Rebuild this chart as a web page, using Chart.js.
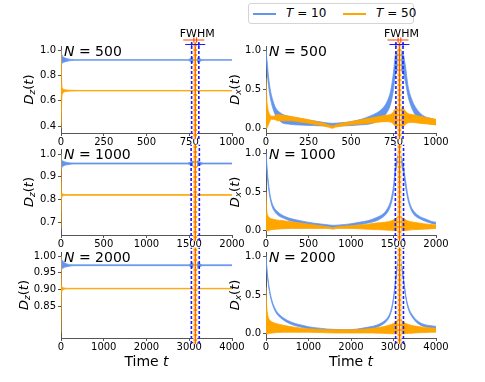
<!DOCTYPE html>
<html><head><meta charset="utf-8">
<script src="https://cdn.jsdelivr.net/npm/chart.js@4.4.1/dist/chart.umd.min.js"></script>
<style>
html,body{margin:0;padding:0;background:#fff;}
#wrap{position:relative;width:485px;height:382px;background:#fff;overflow:hidden;font-family:"DejaVu Sans";}
.c{position:absolute;}
#legend{position:absolute;left:248px;top:3px;width:164px;height:19px;border:1px solid #d4d4d4;border-radius:3px;background:#fff;font:12px "DejaVu Sans";color:#000;}
#legend .ln{position:absolute;height:2px;width:23px;top:8.5px;}
#legend .tx{position:absolute;top:2px;white-space:nowrap;line-height:14px;}
</style></head>
<body><div id="wrap">
<div id="legend">
  <div class="ln" style="left:4px;background:#6495ED"></div>
  <span class="tx" style="left:37px"><i>T</i> = 10</span>
  <div class="ln" style="left:94px;background:#FFA500"></div>
  <span class="tx" style="left:127px"><i>T</i> = 50</span>
</div>
</div>
<script>
// ---------------- data ----------------
const Nvals = [500, 1000, 2000];
const xMaxes = [1000, 2000, 4000];
const xTicks500 = [0, 250, 500, 750, 1000];
const xTicks1000 = [0, 500, 1000, 1500, 2000];
const xTicks2000 = [0, 1000, 2000, 3000, 4000];
const yTicksDz500 = [0.4, 0.6, 0.8, 1.0];
const yTicksDz1000 = [0.7, 0.8, 0.9, 1.0];
const yTicksDz2000 = [0.85, 0.90, 0.95, 1.00];
const yTicksDx = [0.0, 0.5, 1.0];
const yLimDz500 = [0.345, 1.032];
const yLimDz1000 = [0.645, 1.022];
const yLimDz2000 = [0.754, 1.012];
const yLimDx = [-0.055, 1.055];
const revivalT = [785, 1570, 3142];
const fwhmHalfT10 = [21, 48, 92];
const fwhmHalfT50 = [8, 16, 32];

// D_z, N=500
const dz500_t10_time = [0, 2, 5, 10, 20, 35, 60, 100, 740, 760, 775, 785, 795, 810, 830, 1000];
const dz500_t10_hi = [1.0, 0.97, 0.965, 0.95, 0.94, 0.932, 0.926, 0.924, 0.924, 0.935, 0.945, 0.946, 0.94, 0.932, 0.924, 0.924];
const dz500_t10_lo = [1.0, 0.88, 0.893, 0.9, 0.905, 0.912, 0.917, 0.92, 0.92, 0.908, 0.9, 0.899, 0.903, 0.91, 0.92, 0.92];
const dz500_t50_time = [0, 2, 4, 8, 15, 30, 60, 100, 1000];
const dz500_t50_hi = [1.0, 0.9, 0.75, 0.7, 0.69, 0.685, 0.682, 0.681, 0.681];
const dz500_t50_lo = [0.38, 0.45, 0.6, 0.65, 0.665, 0.672, 0.676, 0.677, 0.677];
// D_z, N=1000
const dz1000_t10_time = [0, 3, 8, 20, 40, 70, 110, 150, 1480, 1520, 1550, 1570, 1590, 1620, 1660, 2000];
const dz1000_t10_hi = [1.0, 0.985, 0.975, 0.97, 0.966, 0.963, 0.961, 0.9605, 0.9605, 0.966, 0.97, 0.972, 0.97, 0.966, 0.9605, 0.9605];
const dz1000_t10_lo = [1.0, 0.93, 0.94, 0.945, 0.95, 0.953, 0.955, 0.9565, 0.9565, 0.95, 0.946, 0.944, 0.946, 0.95, 0.9565, 0.9565];
const dz1000_t50_time = [0, 2, 5, 10, 20, 40, 80, 2000];
const dz1000_t50_hi = [1.0, 0.9, 0.84, 0.828, 0.825, 0.823, 0.822, 0.822];
const dz1000_t50_lo = [0.67, 0.72, 0.8, 0.812, 0.816, 0.818, 0.819, 0.819];
// D_z, N=2000
const dz2000_t10_time = [0, 5, 15, 40, 80, 140, 220, 300, 2980, 3060, 3110, 3142, 3180, 3230, 3310, 4000];
const dz2000_t10_hi = [1.0, 0.995, 0.99, 0.985, 0.98, 0.976, 0.974, 0.9735, 0.9735, 0.978, 0.982, 0.983, 0.982, 0.978, 0.9735, 0.9735];
const dz2000_t10_lo = [1.0, 0.955, 0.96, 0.963, 0.966, 0.968, 0.97, 0.971, 0.971, 0.966, 0.962, 0.96, 0.962, 0.966, 0.971, 0.971];
const dz2000_t50_time = [0, 4, 10, 25, 50, 100, 160, 4000];
const dz2000_t50_hi = [1.0, 0.95, 0.915, 0.907, 0.905, 0.9035, 0.903, 0.903];
const dz2000_t50_lo = [0.77, 0.82, 0.885, 0.895, 0.899, 0.901, 0.9015, 0.9015];

// D_x, N=500
const dx500_t10_time = [0, 8, 15, 25, 35, 50, 65, 80, 100, 130, 170, 220, 280, 340, 390, 440, 500, 560, 610, 650, 690, 715, 735, 750, 762, 785, 808, 820, 835, 860, 890, 930, 970, 1000];
const dx500_t10_hi = [1.0, 0.82, 0.66, 0.5, 0.4, 0.3, 0.24, 0.21, 0.18, 0.16, 0.14, 0.12, 0.1, 0.08, 0.068, 0.075, 0.09, 0.12, 0.16, 0.2, 0.27, 0.36, 0.5, 0.72, 0.95, 1.0, 0.95, 0.8, 0.55, 0.36, 0.24, 0.16, 0.13, 0.11];
const dx500_t10_lo = [1.0, 0.7, 0.55, 0.4, 0.3, 0.2, 0.14, 0.1, 0.07, 0.06, 0.05, 0.045, 0.04, 0.035, 0.03, 0.035, 0.04, 0.05, 0.06, 0.09, 0.15, 0.22, 0.33, 0.5, 0.7, 0.75, 0.7, 0.6, 0.42, 0.25, 0.14, 0.08, 0.06, 0.05];
const dx500_t50_time = [0, 4, 10, 20, 30, 45, 70, 100, 150, 200, 250, 300, 340, 375, 390, 410, 450, 500, 550, 600, 650, 700, 740, 760, 785, 810, 830, 860, 900, 950, 1000];
const dx500_t50_hi = [0.65, 0.4, 0.27, 0.19, 0.16, 0.16, 0.18, 0.17, 0.155, 0.135, 0.115, 0.09, 0.07, 0.045, 0.035, 0.05, 0.07, 0.09, 0.11, 0.13, 0.15, 0.17, 0.19, 0.25, 0.28, 0.25, 0.2, 0.18, 0.16, 0.14, 0.12];
const dx500_t50_lo = [0.0, 0.0, 0.03, 0.08, 0.12, 0.12, 0.1, 0.1, 0.1, 0.085, 0.07, 0.05, 0.035, 0.015, 0.005, 0.02, 0.035, 0.05, 0.06, 0.07, 0.08, 0.09, 0.08, 0.03, 0.0, 0.03, 0.07, 0.08, 0.07, 0.06, 0.05];
// D_x, N=1000
const dx1000_t10_time = [0, 10, 25, 45, 70, 100, 130, 170, 210, 280, 400, 550, 700, 785, 870, 1000, 1100, 1200, 1300, 1380, 1430, 1470, 1500, 1525, 1570, 1615, 1640, 1670, 1700, 1740, 1800, 1880, 1950, 2000];
const dx1000_t10_hi = [1.0, 0.85, 0.66, 0.48, 0.36, 0.29, 0.25, 0.215, 0.19, 0.16, 0.13, 0.1, 0.08, 0.07, 0.075, 0.09, 0.11, 0.13, 0.17, 0.22, 0.29, 0.4, 0.58, 0.85, 1.0, 0.85, 0.66, 0.45, 0.33, 0.25, 0.19, 0.15, 0.12, 0.11];
const dx1000_t10_lo = [1.0, 0.78, 0.6, 0.44, 0.32, 0.25, 0.21, 0.18, 0.16, 0.13, 0.1, 0.07, 0.05, 0.04, 0.05, 0.06, 0.08, 0.1, 0.13, 0.18, 0.24, 0.34, 0.5, 0.76, 0.9, 0.76, 0.58, 0.4, 0.29, 0.21, 0.16, 0.12, 0.095, 0.085];
const dx1000_t50_time = [0, 5, 15, 30, 50, 80, 120, 200, 300, 400, 500, 600, 700, 760, 785, 810, 870, 1000, 1100, 1200, 1300, 1400, 1480, 1530, 1570, 1610, 1660, 1740, 1850, 2000];
const dx1000_t50_hi = [0.5, 0.32, 0.22, 0.18, 0.16, 0.15, 0.14, 0.13, 0.115, 0.1, 0.085, 0.07, 0.055, 0.045, 0.04, 0.045, 0.055, 0.065, 0.075, 0.085, 0.1, 0.11, 0.13, 0.16, 0.2, 0.16, 0.13, 0.11, 0.09, 0.075];
const dx1000_t50_lo = [0.0, 0.0, 0.0, 0.0, 0.01, 0.015, 0.02, 0.025, 0.03, 0.03, 0.03, 0.03, 0.03, 0.025, 0.02, 0.025, 0.03, 0.03, 0.025, 0.02, 0.015, 0.01, 0.005, 0.0, 0.0, 0.0, 0.005, 0.015, 0.02, 0.03];
// D_x, N=2000
const dx2000_t10_time = [0, 20, 60, 100, 140, 200, 260, 350, 450, 550, 700, 850, 1000, 1200, 1450, 1650, 1850, 2050, 2250, 2450, 2600, 2750, 2850, 2920, 2980, 3030, 3080, 3142, 3200, 3250, 3300, 3360, 3420, 3500, 3600, 3720, 3850, 4000];
const dx2000_t10_hi = [1.0, 0.85, 0.65, 0.52, 0.43, 0.34, 0.28, 0.23, 0.19, 0.16, 0.13, 0.11, 0.09, 0.075, 0.06, 0.055, 0.052, 0.055, 0.07, 0.09, 0.11, 0.15, 0.2, 0.27, 0.4, 0.6, 0.85, 1.0, 0.85, 0.65, 0.46, 0.33, 0.26, 0.2, 0.15, 0.12, 0.105, 0.095];
const dx2000_t10_lo = [1.0, 0.82, 0.62, 0.49, 0.4, 0.31, 0.252, 0.202, 0.162, 0.132, 0.102, 0.082, 0.062, 0.047, 0.032, 0.027, 0.024, 0.027, 0.042, 0.062, 0.082, 0.122, 0.172, 0.24, 0.37, 0.57, 0.82, 0.97, 0.82, 0.62, 0.43, 0.3, 0.232, 0.172, 0.122, 0.092, 0.077, 0.067];
const dx2000_t50_time = [0, 10, 30, 60, 100, 150, 250, 400, 600, 800, 1000, 1300, 1600, 1900, 2200, 2500, 2750, 2950, 3050, 3142, 3230, 3350, 3500, 3700, 3900, 4000];
const dx2000_t50_hi = [0.6, 0.42, 0.28, 0.2, 0.17, 0.15, 0.13, 0.11, 0.09, 0.075, 0.065, 0.055, 0.05, 0.05, 0.055, 0.07, 0.09, 0.12, 0.15, 0.2, 0.15, 0.12, 0.1, 0.085, 0.075, 0.07];
const dx2000_t50_lo = [0.0, 0.0, 0.0, 0.0, 0.005, 0.01, 0.015, 0.02, 0.02, 0.02, 0.02, 0.015, 0.01, 0.01, 0.01, 0.01, 0.005, 0.0, 0.0, 0.0, 0.0, 0.005, 0.01, 0.015, 0.02, 0.02];

// ---------------- styles / layout ----------------
const C10 = '#6495ED', C50 = '#FFA500', CBLUE = '#1a1aff', CRED = '#ff4500';
const FONT = '"DejaVu Sans"';
const rowTop = [46, 149, 252], rowBot = [133, 235, 338];
const cols = [
  {divLeft: 0, width: 260, yAxisW: 61, plotRight: 232, titleX: [28, 28, 23], kind: 'z'},
  {divLeft: 225, width: 260, yAxisW: 41, plotRight: 211, titleX: [9, 9, 9], kind: 'x'}
];

const panelData = {
  z: [
    {t10: [dz500_t10_time, dz500_t10_hi, dz500_t10_lo], t50: [dz500_t50_time, dz500_t50_hi, dz500_t50_lo], yl: yLimDz500, yt: yTicksDz500, dec: 1},
    {t10: [dz1000_t10_time, dz1000_t10_hi, dz1000_t10_lo], t50: [dz1000_t50_time, dz1000_t50_hi, dz1000_t50_lo], yl: yLimDz1000, yt: yTicksDz1000, dec: 1},
    {t10: [dz2000_t10_time, dz2000_t10_hi, dz2000_t10_lo], t50: [dz2000_t50_time, dz2000_t50_hi, dz2000_t50_lo], yl: yLimDz2000, yt: yTicksDz2000, dec: 2}
  ],
  x: [
    {t10: [dx500_t10_time, dx500_t10_hi, dx500_t10_lo], t50: [dx500_t50_time, dx500_t50_hi, dx500_t50_lo], yl: yLimDx, yt: yTicksDx, dec: 1},
    {t10: [dx1000_t10_time, dx1000_t10_hi, dx1000_t10_lo], t50: [dx1000_t50_time, dx1000_t50_hi, dx1000_t50_lo], yl: yLimDx, yt: yTicksDx, dec: 1},
    {t10: [dx2000_t10_time, dx2000_t10_hi, dx2000_t10_lo], t50: [dx2000_t50_time, dx2000_t50_hi, dx2000_t50_lo], yl: yLimDx, yt: yTicksDx, dec: 1}
  ]
};
const xTickSets = [xTicks500, xTicks1000, xTicks2000];

function pts(t, v) { return t.map((x, i) => ({x: x, y: v[i]})); }
function band(s, color, order) {
  const [t, hi, lo] = s;
  return [
    {data: pts(t, hi), borderColor: color, backgroundColor: color, borderWidth: 0.8, fill: '+1', pointRadius: 0, cubicInterpolationMode: 'monotone', order: order},
    {data: pts(t, lo), borderColor: color, backgroundColor: color, borderWidth: 0.8, fill: false, pointRadius: 0, cubicInterpolationMode: 'monotone', order: order}
  ];
}
function vline(t, y0, y1, color, width, dash, order) {
  return {data: [{x: t, y: y0}, {x: t, y: y1}], borderColor: color, borderWidth: width, borderDash: dash, fill: false, pointRadius: 0, clip: false, order: order};
}

function fontFor(p, size) { const s = p.sub ? size * 0.7 : size; return (p.it ? 'italic ' : '') + s.toFixed(1) + 'px ' + FONT; }
function drawRich(ctx, parts, x, y, size, align) {
  let w = 0;
  for (const p of parts) { ctx.font = fontFor(p, size); w += ctx.measureText(p.t).width; }
  let cx = align === 'center' ? x - w / 2 : x;
  ctx.textAlign = 'left'; ctx.textBaseline = 'alphabetic'; ctx.fillStyle = '#000';
  for (const p of parts) {
    ctx.font = fontFor(p, size);
    ctx.fillText(p.t, cx, y + (p.sub ? size * 0.22 : 0));
    cx += ctx.measureText(p.t).width;
  }
}

const wrap = document.getElementById('wrap');
for (let r = 0; r < 3; r++) {
  for (let c = 0; c < 2; c++) {
    const col = cols[c];
    const pd = panelData[col.kind][r];
    const divTop = r === 0 ? 0 : rowTop[r] - 15;
    const divH = r === 2 ? 382 - divTop : rowBot[r] + 20 - divTop;
    const padTop = rowTop[r] - divTop;
    const xAxisH = divH - (rowBot[r] - divTop);
    const div = document.createElement('div');
    div.className = 'c';
    div.style.left = col.divLeft + 'px'; div.style.top = divTop + 'px';
    div.style.width = col.width + 'px'; div.style.height = divH + 'px';
    const cv = document.createElement('canvas');
    cv.width = col.width; cv.height = divH;
    cv.style.width = col.width + 'px'; cv.style.height = divH + 'px';
    div.appendChild(cv); wrap.appendChild(div);

    const [ymin, ymax] = pd.yl;
    const yr = ymax - ymin;
    const vy0 = ymin - 0.07 * yr, vy1 = ymax + (r === 0 ? 0.04 : 0.05) * yr;
    const tc = revivalT[r];
    const datasets = [];
    datasets.push(vline(tc - fwhmHalfT10[r], vy0, vy1, CBLUE, 1.6, [3, 2], 1));
    datasets.push(vline(tc + fwhmHalfT10[r], vy0, vy1, CBLUE, 1.6, [3, 2], 1));
    datasets.push(vline(tc - fwhmHalfT50[r], vy0, vy1, '#ffffff', 1, [3, 2], 2));
    datasets.push(vline(tc + fwhmHalfT50[r], vy0, vy1, '#ffffff', 1, [3, 2], 2));
    datasets.push(vline(tc, vy0, vy1, CRED, 0.8, [], 3));
    datasets.push(vline(tc, vy0, vy1, C50, 3.8, [], 4));
    datasets.push(...band(pd.t50, C50, 10));
    datasets.push(...band(pd.t10, C10, 20));

    const xTicks = xTickSets[r];
    const textPlugin = {
      id: 'txt' + r + c,
      afterDraw(chart) {
        const ctx = chart.ctx, a = chart.chartArea, xs = chart.scales.x;
        ctx.save();
        ctx.save();
        ctx.translate(col.titleX[r], (a.top + a.bottom) / 2);
        ctx.rotate(-Math.PI / 2);
        drawRich(ctx, [{t: 'D', it: true}, {t: col.kind, it: true, sub: true}, {t: '('}, {t: 't', it: true}, {t: ')'}], 0, 4.5, 13, 'center');
        ctx.restore();
        drawRich(ctx, [{t: 'N', it: true}, {t: ' = ' + Nvals[r]}], a.left + 3, a.top + 9.5, 14, 'left');
        const xc = xs.getPixelForValue(tc);
        if (r === 0) {
          drawRich(ctx, [{t: 'FWHM'}], xc + 2, a.top - 9, 11, 'center');
          const ob1 = xs.getPixelForValue(tc - fwhmHalfT50[r]), ob2 = xs.getPixelForValue(tc + fwhmHalfT50[r]);
          const bb1 = xs.getPixelForValue(tc - fwhmHalfT10[r]), bb2 = xs.getPixelForValue(tc + fwhmHalfT10[r]);
          ctx.lineWidth = 1.1;
          ctx.strokeStyle = CRED;
          let y = a.top - 6;
          ctx.beginPath(); ctx.moveTo(xc - 12, y); ctx.lineTo(xc + 9, y);
          ctx.moveTo(ob1, y - 2.5); ctx.lineTo(ob1, y + 2.5); ctx.moveTo(ob2, y - 2.5); ctx.lineTo(ob2, y + 2.5); ctx.stroke();
          ctx.strokeStyle = CBLUE;
          y = a.top - 1.5;
          ctx.beginPath(); ctx.moveTo(xc - 10, y); ctx.lineTo(xc + 10, y);
          ctx.moveTo(bb1, y - 2.5); ctx.lineTo(bb1, y + 2.5); ctx.moveTo(bb2, y - 2.5); ctx.lineTo(bb2, y + 2.5); ctx.stroke();
        }
        if (r === 2) {
          drawRich(ctx, [{t: 'Time '}, {t: 't', it: true}], (a.left + a.right) / 2, a.bottom + 28, 14, 'center');
        }
        ctx.restore();
      }
    };

    new Chart(cv, {
      type: 'line',
      data: {datasets: datasets},
      options: {
        responsive: false, animation: false, events: [],
        layout: {padding: {left: 0, right: col.width - col.plotRight, top: padTop, bottom: 0}},
        plugins: {legend: {display: false}, tooltip: {enabled: false}},
        scales: {
          x: {
            type: 'linear', min: 0, max: xMaxes[r],
            afterBuildTicks(s) { s.ticks = xTicks.map(v => ({value: v})); },
            afterFit(s) { s.height = xAxisH; s.paddingLeft = 0; s.paddingRight = 0; },
            ticks: {autoSkip: false, maxRotation: 0, padding: 0, color: '#000', font: {family: 'DejaVu Sans', size: 10}, callback: v => String(v)},
            grid: {display: true, drawOnChartArea: false, drawTicks: true, tickLength: 3, color: '#555'},
            border: {display: true, color: '#555', width: 1}
          },
          y: {
            type: 'linear', min: ymin, max: ymax,
            afterBuildTicks(s) { s.ticks = pd.yt.map(v => ({value: v})); },
            afterFit(s) { s.width = col.yAxisW; s.paddingTop = 0; s.paddingBottom = 0; },
            ticks: {autoSkip: false, padding: 2, color: '#000', font: {family: 'DejaVu Sans', size: 10}, callback: v => Number(v).toFixed(pd.dec)},
            grid: {display: true, drawOnChartArea: false, drawTicks: true, tickLength: 3, color: '#555'},
            border: {display: true, color: '#555', width: 1}
          }
        }
      },
      plugins: [textPlugin]
    });
  }
}
</script>
</body></html>
